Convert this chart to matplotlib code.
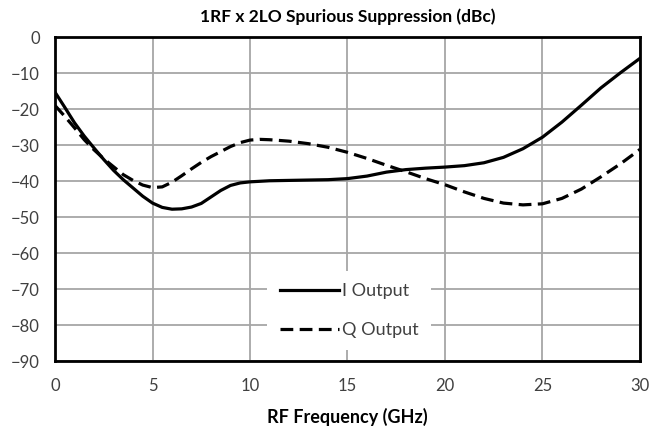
import matplotlib
matplotlib.use('Agg')
import matplotlib.pyplot as plt

plt.rcParams['font.family'] = ['Lato', 'DejaVu Sans']

# measured spur levels, denser steps where the curves bend
i_freq = [0, 0.5, 1, 1.5, 2, 2.5, 3, 3.5, 4, 4.5, 5, 5.5, 6, 6.5, 7, 7.5, 8, 8.5,
          9, 9.5, 10, 11, 12, 13, 14, 15, 16, 17, 18, 19, 20, 21, 22, 23, 24,
          25, 26, 27, 28, 29, 30]
i_output = [-15.3, -19.5, -23.8, -27.5, -30.8, -34, -37, -39.6, -41.9, -44.2,
            -46.1, -47.3, -47.8, -47.7, -47.2, -46.2, -44.4, -42.6, -41.2, -40.5,
            -40.2, -39.9, -39.8, -39.7, -39.6, -39.3, -38.6, -37.5, -36.8, -36.4,
            -36.1, -35.7, -34.9, -33.4, -31, -27.8, -23.6, -18.9, -14.1, -9.9, -5.9]
q_freq = [0, 0.5, 1, 1.5, 2, 2.5, 3, 3.5, 4, 4.5, 5, 5.5, 6, 6.5, 7, 7.5, 8, 8.5,
          9, 9.5, 10, 10.5, 11, 12, 13, 14, 15, 16, 17, 18, 19, 20, 21, 22, 23,
          24, 25, 26, 27, 28, 29, 30]
q_output = [-19, -22, -25.2, -28.5, -31.3, -33.8, -36, -38.2, -39.8, -41.1,
            -41.8, -41.6, -40.3, -38.5, -36.6, -34.8, -33.2, -31.8, -30.4, -29.3,
            -28.6, -28.4, -28.5, -28.9, -29.6, -30.6, -32, -33.7, -35.6, -37.4,
            -39.3, -41, -43, -44.8, -46.1, -46.6, -46.3, -44.8, -42.2, -38.8,
            -35.2, -31.2]
x_ticks = [0, 5, 10, 15, 20, 25, 30]
y_ticks = [0, -10, -20, -30, -40, -50, -60, -70, -80, -90]

fig = plt.figure(figsize=(6.55, 4.42), dpi=100)
ax = fig.add_axes([0.084, 0.183, 0.893, 0.733])

ax.plot(i_freq, i_output, color='black', lw=2.3, label='I Output')
ax.plot(q_freq, q_output, color='black', lw=2.3, dashes=(4, 2), label='Q Output')

ax.set_xlim(0, 30)
ax.set_ylim(-90, 0)
ax.set_xticks(x_ticks)
ax.set_yticks(y_ticks)
ax.grid(True, color='#a6a6a6', lw=1.3)
ax.set_axisbelow(True)
ax.tick_params(length=0, labelsize=12, labelcolor='#404040')
ax.tick_params(axis='x', pad=12)
ax.tick_params(axis='y', pad=11)
for s in ax.spines.values():
    s.set_linewidth(2)
    s.set_color('black')

ax.set_title('1RF x 2LO Spurious Suppression (dBc)', fontsize=12.5, fontweight='bold', pad=11)
ax.set_xlabel('RF Frequency (GHz)', fontsize=13, fontweight='bold', labelpad=10)

leg = ax.legend(loc='lower center', bbox_to_anchor=(0.503, 0.005), frameon=True,
                fancybox=False, edgecolor='none', facecolor='white', framealpha=1,
                fontsize=13, handlelength=3.3, handletextpad=0.15, labelspacing=1.25,
                labelcolor='#404040', borderpad=0.7)

fig.savefig('out.png', dpi=100)
